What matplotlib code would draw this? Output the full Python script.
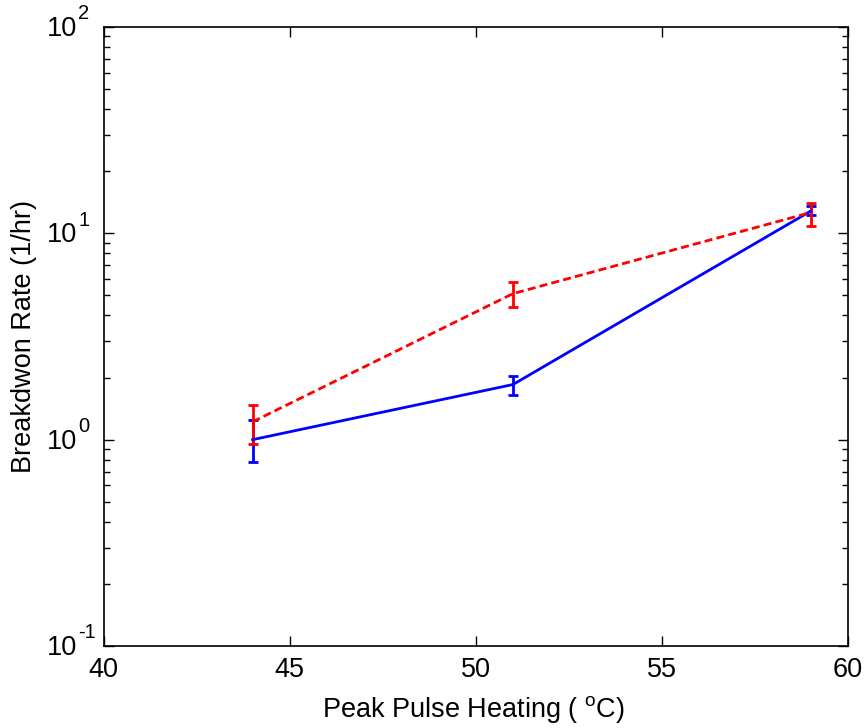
import matplotlib
matplotlib.use("Agg")
import matplotlib.pyplot as plt
import numpy as np

plt.rcParams['font.family'] = ['Liberation Sans', 'DejaVu Sans']
plt.rcParams['mathtext.fontset'] = 'custom'
plt.rcParams['mathtext.rm'] = 'Liberation Sans'
plt.rcParams['mathtext.it'] = 'Liberation Sans:italic'

temps = [44, 51, 59]
blue_rate = [1.0, 1.85, 12.8]
blue_lo = [0.78, 1.65, 12.2]
blue_hi = [1.24, 2.04, 13.6]
red_rate = [1.22, 5.1, 12.6]
red_lo = [0.956, 4.41, 10.8]
red_hi = [1.48, 5.83, 14.1]
x_ticks = [40, 45, 50, 55, 60]
y_exponents = [-1, 0, 1, 2]

fig = plt.figure(figsize=(8.65, 7.28), dpi=100)
ax = fig.add_axes([0.120, 0.1126, 0.860, 0.8504])

def err(v, lo, hi):
    v = np.array(v); return np.vstack([v - np.array(lo), np.array(hi) - v])

ax.errorbar(temps, blue_rate, yerr=err(blue_rate, blue_lo, blue_hi), color='#0000ff',
            lw=2.0, elinewidth=2.0, capsize=3.6, capthick=2.0, ls='-')
ax.errorbar(temps, red_rate, yerr=err(red_rate, red_lo, red_hi), color='#ff0000',
            lw=2.0, elinewidth=2.0, capsize=3.6, capthick=2.0, ls=(0, (2.9, 1.5)))

ax.set_yscale('log')
ax.set_xlim(40, 60)
ax.set_ylim(0.1, 100)
ax.set_xticks(x_ticks)
ax.set_yticks([10.0 ** e for e in y_exponents])
ax.tick_params(which='both', direction='in', top=True, right=True, width=1)
ax.tick_params(axis='x', labelsize=19.5, pad=8)
ax.tick_params(axis='y', which='major', labelleft=False)
ax.tick_params(which='major', length=7)
ax.tick_params(which='minor', length=4)
for s in ax.spines.values():
    s.set_linewidth(1.2)

# y tick labels drawn as base + superscript (MATLAB style)
for e in y_exponents:
    v = 10.0 ** e
    ax.annotate('10', xy=(0, v), xycoords=('axes fraction', 'data'),
                xytext=(-19.4, -1.5), textcoords='offset points',
                ha='right', va='center', fontsize=19.5)
    ax.annotate(str(e), xy=(0, v), xycoords=('axes fraction', 'data'),
                xytext=(-18.5, 9.5), textcoords='offset points',
                ha='left', va='center', fontsize=14.5)

ax.set_xlabel('Peak Pulse Heating ( $^{\\mathrm{o}}$C)', fontsize=19.5, va='baseline')
ax.xaxis.set_label_coords(0.497, -0.115)
ax.set_ylabel('Breakdwon Rate (1/hr)', fontsize=19.5, va='center')
ax.yaxis.set_label_coords(-0.107, 0.5)

fig.savefig('out.png', dpi=100)
